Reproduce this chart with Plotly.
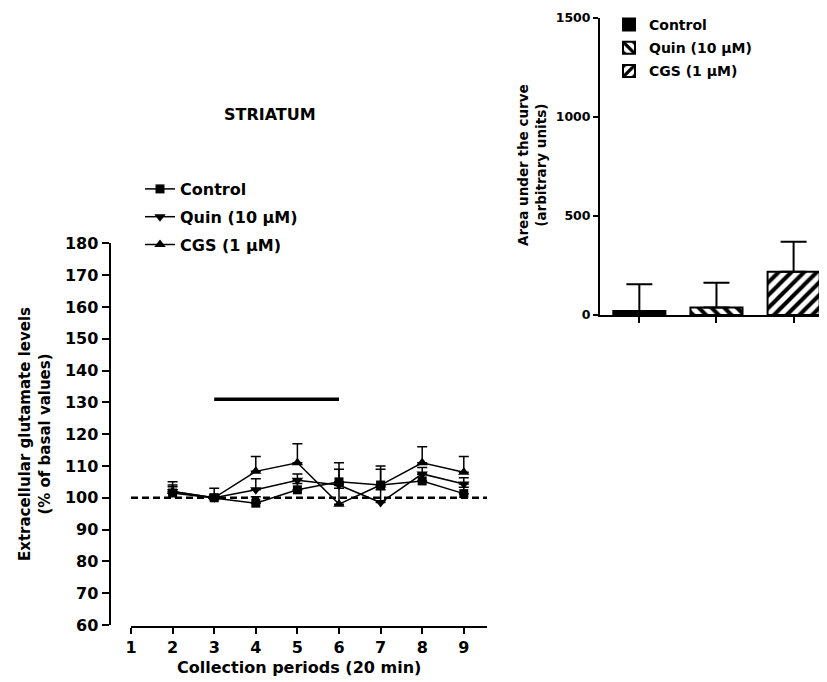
import plotly.graph_objects as go

# ---------------- data ----------------
periods = [2, 3, 4, 5, 6, 7, 8, 9]
control = [101.5, 100, 98.3, 102.5, 105, 104, 105.3, 101.3]
control_err = [3.5, 1, 2, 2, 6, 6, 2, 2]
quin = [102, 100, 102.5, 105.5, 104, 98.5, 107.5, 104.3]
quin_err = [2, 1, 3.5, 2, 5, 4, 2, 2]
cgs = [102, 100, 108.3, 111, 98, 104, 111, 108]
cgs_err = [1.5, 3, 4.7, 6, 5, 5, 5, 5]

x_ticks = [1, 2, 3, 4, 5, 6, 7, 8, 9]
y_ticks = [60, 70, 80, 90, 100, 110, 120, 130, 140, 150, 160, 170, 180]
baseline = 100
treatment_start, treatment_end, treatment_level = 3, 6, 131

bar_groups = ["Control", "Quin (10 \u03bcM)", "CGS (1 \u03bcM)"]
auc = [20, 38, 219]
auc_err = [135, 125, 151]
auc_ticks = [0, 500, 1000, 1500]

W, H = 827, 682
OFF = 8  # page body margin
FONT = "DejaVu Sans"


def px_x(p):
    return (p - OFF) / W


def px_y(p):
    return (H - (p - OFF)) / H


fig = go.Figure()

err_style = dict(type="data", symmetric=False, color="black", thickness=1.5, width=5)
line_series = [
    ("Control", control, control_err, "square", 9),
    ("Quin (10 \u03bcM)", quin, quin_err, "triangle-down", 10),
    ("CGS (1 \u03bcM)", cgs, cgs_err, "triangle-up", 10),
]
for i, (name, vals, errs, sym, sz) in enumerate(line_series):
    fig.add_trace(go.Scatter(
        x=periods, y=vals, name=name, mode="lines+markers",
        line=dict(color="black", width=1.5),
        marker=dict(symbol=sym, size=sz, color="black"),
        error_y=dict(array=errs, arrayminus=[0] * len(errs), **err_style),
        xaxis="x", yaxis="y", legend="legend", legendgroup=f"l{i}",
    ))

patterns = ["", "\\", "/"]
for i, g in enumerate(bar_groups):
    fig.add_trace(go.Bar(
        x=[i], y=[auc[i]], name=g, width=0.675,
        marker=dict(color="black" if i == 0 else "white",
                    line=dict(color="black", width=2),
                    pattern=dict(shape=patterns[i], fgcolor="black", bgcolor="white",
                                 size=9, solidity=0.45) if i > 0 else None),
        error_y=dict(type="data", array=[auc_err[i]], arrayminus=[0], symmetric=False,
                     color="black", thickness=2, width=13),
        xaxis="x2", yaxis="y2", legend="legend2", legendgroup=f"b{i}",
    ))

bold = dict(family=FONT, weight="bold", color="black")

fig.update_layout(
    template="none",
    width=W, height=H,
    margin=dict(l=0, r=0, t=0, b=0, pad=0, autoexpand=False),
    paper_bgcolor="white", plot_bgcolor="white",
    font=dict(family=FONT, weight="bold", color="black", size=16),
    showlegend=True,
    xaxis=dict(
        domain=[px_x(131), px_x(487)], range=[1, 1 + (487 - 131) / 41.6],
        anchor="free", position=px_y(627), automargin=False,
        tickvals=x_ticks, ticks="outside", ticklen=6, tickwidth=2, tickcolor="black",
        showline=True, linewidth=2, linecolor="black",
        showgrid=False, zeroline=False, tickfont=dict(size=16, **bold),
    ),
    yaxis=dict(
        domain=[px_y(625), px_y(243.3)], range=[60, 180],
        anchor="free", position=px_x(109.5), automargin=False,
        tickvals=y_ticks, ticks="outside", ticklen=7, tickwidth=2, tickcolor="black",
        showline=True, linewidth=2, linecolor="black",
        showgrid=False, zeroline=False, tickfont=dict(size=16, **bold),
    ),
    xaxis2=dict(
        domain=[px_x(600), px_x(826)], range=[-0.51, 2.42], anchor="y2",
        automargin=False,
        tickvals=[0, 1, 2], ticktext=["", "", ""], ticks="outside", ticklen=6,
        tickwidth=2, tickcolor="black",
        showline=True, linewidth=2, linecolor="black",
        showgrid=False, zeroline=False,
    ),
    yaxis2=dict(
        domain=[px_y(315), px_y(18)], range=[0, 1500], anchor="x2",
        automargin=False,
        tickvals=auc_ticks, ticks="outside", ticklen=5, tickwidth=2, tickcolor="black",
        showline=True, linewidth=2, linecolor="black",
        showgrid=False, zeroline=False, tickfont=dict(size=12.5, **bold),
    ),
    legend=dict(
        x=px_x(140), y=px_y(172), xanchor="left", yanchor="top",
        font=dict(size=16, **bold), bgcolor="rgba(0,0,0,0)",
        tracegroupgap=4, itemwidth=30,
    ),
    legend2=dict(
        x=px_x(609), y=px_y(9), xanchor="left", yanchor="top",
        font=dict(size=14, **bold), bgcolor="rgba(0,0,0,0)",
        tracegroupgap=2,
    ),
    shapes=[
        dict(type="line", xref="x", yref="y", x0=1, x1=1 + (487 - 131) / 41.6,
             y0=baseline, y1=baseline, line=dict(color="black", width=2.5, dash="7px,4px")),
        dict(type="line", xref="x", yref="y", x0=treatment_start, x1=treatment_end,
             y0=treatment_level, y1=treatment_level, line=dict(color="black", width=3.5)),
    ],
    annotations=[
        dict(text="STRIATUM", x=px_x(270), y=px_y(115), xref="paper", yref="paper",
             xanchor="center", yanchor="middle",
             showarrow=False, font=dict(size=16, **bold)),
        dict(text="Extracellular glutamate levels<br>(% of basal values)",
             x=px_x(35), y=px_y(434), xref="paper", yref="paper", textangle=-90,
             xanchor="center", yanchor="middle",
             showarrow=False, font=dict(size=15, **bold)),
        dict(text="Collection periods (20 min)", x=px_x(299), y=px_y(667),
             xanchor="center", yanchor="middle",
             xref="paper", yref="paper", showarrow=False, font=dict(size=16, **bold)),
        dict(text="Area under the curve<br>(arbitrary units)", x=px_x(532), y=px_y(165),
             xanchor="center", yanchor="middle",
             xref="paper", yref="paper", textangle=-90, showarrow=False,
             font=dict(size=13.5, **bold)),
    ],
)

fig.write_html("out.html")
